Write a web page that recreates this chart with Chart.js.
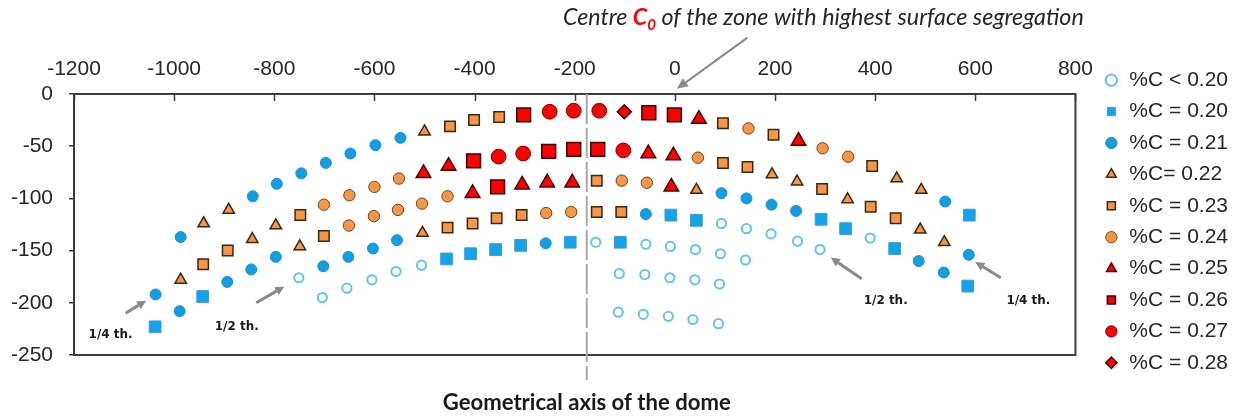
<!DOCTYPE html>
<html>
<head>
<meta charset="utf-8">
<script src="https://cdn.jsdelivr.net/npm/chart.js@4.4.1/dist/chart.umd.min.js"></script>
<style>
  html, body { margin: 0; padding: 0; background: #fff; }
  #wrap { width: 1243px; height: 418px; position: relative; }
</style>
</head>
<body>
<div id="wrap"><canvas id="domeChart"></canvas></div>
<script>
// axis ticks
const xTickValues = [-1200, -1000, -800, -600, -400, -200, 0, 200, 400, 600, 800];
const yTickValues = [0, -50, -100, -150, -200, -250];

const seriesLabels = ['%C < 0.20', '%C = 0.20', '%C = 0.21', '%C= 0.22', '%C = 0.23',
                      '%C = 0.24', '%C = 0.25', '%C = 0.26', '%C = 0.27', '%C = 0.28'];

// [x, y]
const pointsLt020 = [
  [-751, -176], [-704, -195], [-655, -186], [-605, -178], [-557, -170], [-506, -164],
  [-158, -142], [-58, -144], [-9, -146], [41, -149], [91, -153], [141, -159],
  [93, -124], [143, -129], [192, -134], [245, -141], [290, -149], [390, -138],
  [-111, -172], [-60, -173], [-10, -176], [40, -178], [89, -182],
  [-113, -209], [-63, -211], [-13, -213], [36, -216], [87, -220]
];
const points020 = [
  [-1038, -223], [-943, -194], [-456, -158], [-408, -153], [-358, -149], [-308, -145],
  [-209, -142], [-109, -142], [-8, -116], [43, -121], [292, -120], [341, -129],
  [439, -148], [585, -184], [588, -116]
];
const points021 = [
  [-1037, -192], [-987, -137], [-989, -208], [-894, -180], [-843, -98], [-846, -168],
  [-795, -86], [-797, -156], [-746, -76], [-697, -66], [-702, -165], [-648, -57],
  [-652, -156], [-598, -49], [-603, -148], [-548, -42], [-555, -140], [-258, -143],
  [-58, -115], [93, -95], [143, -100], [193, -106], [242, -112], [487, -160],
  [537, -171], [540, -103], [587, -154]
];
const points022 = [
  [-987, -178], [-941, -124], [-891, -111], [-844, -139], [-797, -126], [-749, -146],
  [-500, -36], [-504, -133], [43, -92], [194, -77], [244, -84], [345, -101],
  [490, -130], [538, -142], [443, -81], [492, -92]
];
const points023 = [
  [-942, -163], [-893, -150], [-748, -116], [-701, -136], [-449, -31], [-401, -25],
  [-351, -22], [96, -28], [197, -39], [394, -69], [96, -66], [145, -70], [294, -91],
  [391, -108], [441, -119], [-156, -83], [-454, -128], [-404, -124], [-356, -119],
  [-306, -116], [-156, -113], [-107, -113]
];
const points024 = [
  [-701, -106], [-650, -97], [-651, -126], [-600, -89], [-601, -117], [-551, -81],
  [-553, -111], [-505, -105], [-454, -98], [147, -33], [295, -52], [346, -60],
  [46, -61], [-106, -83], [-56, -85], [-257, -114], [-207, -113]
];
const points025 = [
  [-502, -76], [-452, -69], [48, -24], [247, -45], [-53, -57], [-3, -59],
  [-404, -95], [-305, -87], [-255, -85], [-205, -85], [-7, -89]
];
const points026 = [
  [-302, -20], [-52, -18], [-1, -20], [-402, -64], [-252, -55], [-202, -53],
  [-154, -53], [-354, -89]
];
const points027 = [[-250, -17], [-202, -16], [-151, -16], [-352, -60], [-303, -57], [-103, -54]];
const points028 = [[-101, -17]];

// annotations (data units)
const domeAxisX = -176;
const domeAxisEnd = -274;
const noteTexts = [['1/4 th.', -1127, -231], ['1/2 th.', -875, -223], ['1/2 th.', 421, -198], ['1/4 th.', 706, -198]];
const noteArrows = [[-1097, -210, -1056, -198], [-836, -200, -780, -184.5], [373, -177, 311.5, -156.7], [651, -176, 600, -161]];
const centreArrow = [145, 54, 4, 5];

const BLUE = '#0fa0e4', ORANGE = '#f79646', RED = '#ff0000';
const seriesStyles = [
  {data: pointsLt020, shape: 'circle', r: 4.6, fill: '#ffffff', line: '#63c3f0', w: 2},
  {data: points020, shape: 'rect', r: 8.3, fill: '#14a3e8', line: '#3a9ad4', w: 1},
  {data: points021, shape: 'circle', r: 5.5, fill: BLUE, line: '#2a88c4', w: 1},
  {data: points022, shape: 'triangle', r: 6.6, fill: ORANGE, line: '#3a2815', w: 1.5},
  {data: points023, shape: 'rect', r: 7.4, fill: ORANGE, line: '#3a2815', w: 1.5},
  {data: points024, shape: 'circle', r: 5.7, fill: ORANGE, line: '#6a4520', w: 1},
  {data: points025, shape: 'triangle', r: 8.4, fill: RED, line: '#4a0000', w: 1.5},
  {data: points026, shape: 'rect', r: 9.8, fill: RED, line: '#3a0000', w: 1.5},
  {data: points027, shape: 'circle', r: 7.4, fill: RED, line: '#7a0000', w: 1},
  {data: points028, shape: 'rectRot', r: 7, fill: RED, line: '#4a0000', w: 1.5}
];

const datasets = seriesStyles.map((s, i) => ({
  label: seriesLabels[i],
  data: s.data.map(p => ({x: p[0], y: p[1]})),
  xAxisID: 'x',
  yAxisID: 'y',
  pointStyle: s.shape,
  pointRadius: s.r,
  pointHoverRadius: s.r,
  backgroundColor: s.fill,
  borderColor: s.line,
  borderWidth: s.w
}));

function drawArrow(ctx, x1, y1, x2, y2, lw, headLen, headW, color) {
  const ang = Math.atan2(y2 - y1, x2 - x1);
  const bx = x2 - Math.cos(ang) * headLen, by = y2 - Math.sin(ang) * headLen;
  ctx.strokeStyle = color;
  ctx.fillStyle = color;
  ctx.lineWidth = lw;
  ctx.beginPath();
  ctx.moveTo(x1, y1);
  ctx.lineTo(bx, by);
  ctx.stroke();
  ctx.beginPath();
  ctx.moveTo(x2, y2);
  ctx.lineTo(bx + Math.sin(ang) * headW / 2, by - Math.cos(ang) * headW / 2);
  ctx.lineTo(bx - Math.sin(ang) * headW / 2, by + Math.cos(ang) * headW / 2);
  ctx.closePath();
  ctx.fill();
}

// font size that makes text fill a given width
function fitSize(ctx, text, style, family, width) {
  ctx.font = style + ' 20px ' + family;
  return 20 * width / ctx.measureText(text).width;
}

const overlayPlugin = {
  id: 'overlay',
  beforeDatasetsDraw(chart) {
    const {ctx, chartArea: a, scales: {x, y}} = chart;
    ctx.save();
    ctx.strokeStyle = '#3c3c3c';
    ctx.lineWidth = 2;
    ctx.strokeRect(a.left, a.top, a.right - a.left, a.bottom - a.top);
    ctx.lineWidth = 1.5;
    x.ticks.forEach(t => {
      const px = Math.round(x.getPixelForValue(t.value)) + 0.5;
      ctx.beginPath();
      ctx.moveTo(px, a.top);
      ctx.lineTo(px, a.top + 7);
      ctx.stroke();
    });
    // geometrical axis of the dome
    const ax = x.getPixelForValue(domeAxisX);
    ctx.strokeStyle = '#a8a8a8';
    ctx.lineWidth = 2;
    ctx.setLineDash([30, 4]);
    ctx.beginPath();
    ctx.moveTo(ax, a.top);
    ctx.lineTo(ax, y.getPixelForValue(domeAxisEnd));
    ctx.stroke();
    ctx.restore();
  },
  afterDraw(chart) {
    const {ctx, scales: {x, y}} = chart;
    ctx.save();
    const gray = '#8a8a8a';

    // note arrows and labels
    noteArrows.forEach(a => {
      drawArrow(ctx, x.getPixelForValue(a[0]), y.getPixelForValue(a[1]),
        x.getPixelForValue(a[2]), y.getPixelForValue(a[3]), 3, 9, 9, gray);
    });
    const noteSize = fitSize(ctx, '1/4 th.', 'bold', '"DejaVu Sans"', 44);
    ctx.font = 'bold ' + noteSize + 'px "DejaVu Sans"';
    ctx.fillStyle = '#1a1a1a';
    ctx.textAlign = 'center';
    ctx.textBaseline = 'middle';
    noteTexts.forEach(n => ctx.fillText(n[0], x.getPixelForValue(n[1]), y.getPixelForValue(n[2])));

    // bottom caption
    const capText = 'Geometrical axis of the dome';
    const capSize = fitSize(ctx, capText, 'bold', 'Lato', 288);
    ctx.font = 'bold ' + capSize + 'px Lato';
    ctx.textBaseline = 'alphabetic';
    ctx.fillText(capText, x.getPixelForValue(domeAxisX), y.getPixelForValue(-302.7));

    // top caption with red C0
    drawArrow(ctx, x.getPixelForValue(centreArrow[0]), y.getPixelForValue(centreArrow[1]),
      x.getPixelForValue(centreArrow[2]), y.getPixelForValue(centreArrow[3]), 2, 11, 10, gray);
    const parts = [
      ['Centre ', 'italic', 1, '#262626', 0],
      ['C', 'italic bold', 1, RED, 0],
      ['0', 'italic bold', 0.65, RED, 0.22],
      [' of the zone with highest surface segregation', 'italic', 1, '#262626', 0]
    ];
    let total = 0;
    parts.forEach(p => {
      ctx.font = p[1] + ' ' + (20 * p[2]) + 'px Lato';
      total += ctx.measureText(p[0]).width;
    });
    const base = 20 * 521 / total;
    let cx = x.getPixelForValue(-223.5);
    const cy = y.getPixelForValue(66.4);
    ctx.textAlign = 'left';
    parts.forEach(p => {
      ctx.font = p[1] + ' ' + (base * p[2]) + 'px Lato';
      ctx.fillStyle = p[3];
      ctx.fillText(p[0], cx, cy + base * p[4]);
      cx += ctx.measureText(p[0]).width;
    });
    ctx.restore();
  }
};

const tickFont = {family: '"Liberation Sans", Arial, sans-serif', size: 21};

new Chart(document.getElementById('domeChart'), {
  type: 'scatter',
  data: {datasets: datasets},
  options: {
    responsive: true,
    maintainAspectRatio: false,
    animation: false,
    events: [],
    layout: {padding: {top: 29, bottom: 4, left: 0, right: 5}},
    scales: {
      x: {
        type: 'linear',
        position: 'top',
        min: xTickValues[0],
        max: xTickValues[xTickValues.length - 1],
        ticks: {stepSize: 200, padding: 12, color: '#262626', font: tickFont, maxRotation: 0, autoSkip: false,
                callback: v => String(v)},
        grid: {display: false, drawTicks: false},
        border: {display: false},
        afterFit: s => { s.height = 65; }
      },
      y: {
        type: 'linear',
        position: 'left',
        min: yTickValues[yTickValues.length - 1],
        max: yTickValues[0],
        ticks: {stepSize: 50, padding: 16, color: '#262626', font: tickFont, callback: v => String(v)},
        grid: {drawOnChartArea: false, drawTicks: true, tickLength: 5, color: '#3c3c3c', lineWidth: 1.5},
        border: {display: false},
        afterFit: s => { s.width = 74; }
      },
      x2: {
        type: 'linear',
        position: 'bottom',
        ticks: {display: false},
        grid: {display: false, drawTicks: false},
        border: {display: false},
        afterFit: s => { s.height = 59; }
      },
      y2: {
        type: 'linear',
        position: 'right',
        ticks: {display: false},
        grid: {display: false, drawTicks: false},
        border: {display: false},
        afterFit: s => { s.width = 18; }
      }
    },
    plugins: {
      legend: {
        position: 'right',
        labels: {
          usePointStyle: true,
          boxWidth: 15,
          boxHeight: 8,
          padding: 10.4,
          color: '#262626',
          font: tickFont
        }
      },
      tooltip: {enabled: false}
    }
  },
  plugins: [overlayPlugin]
});
</script>
</body>
</html>
